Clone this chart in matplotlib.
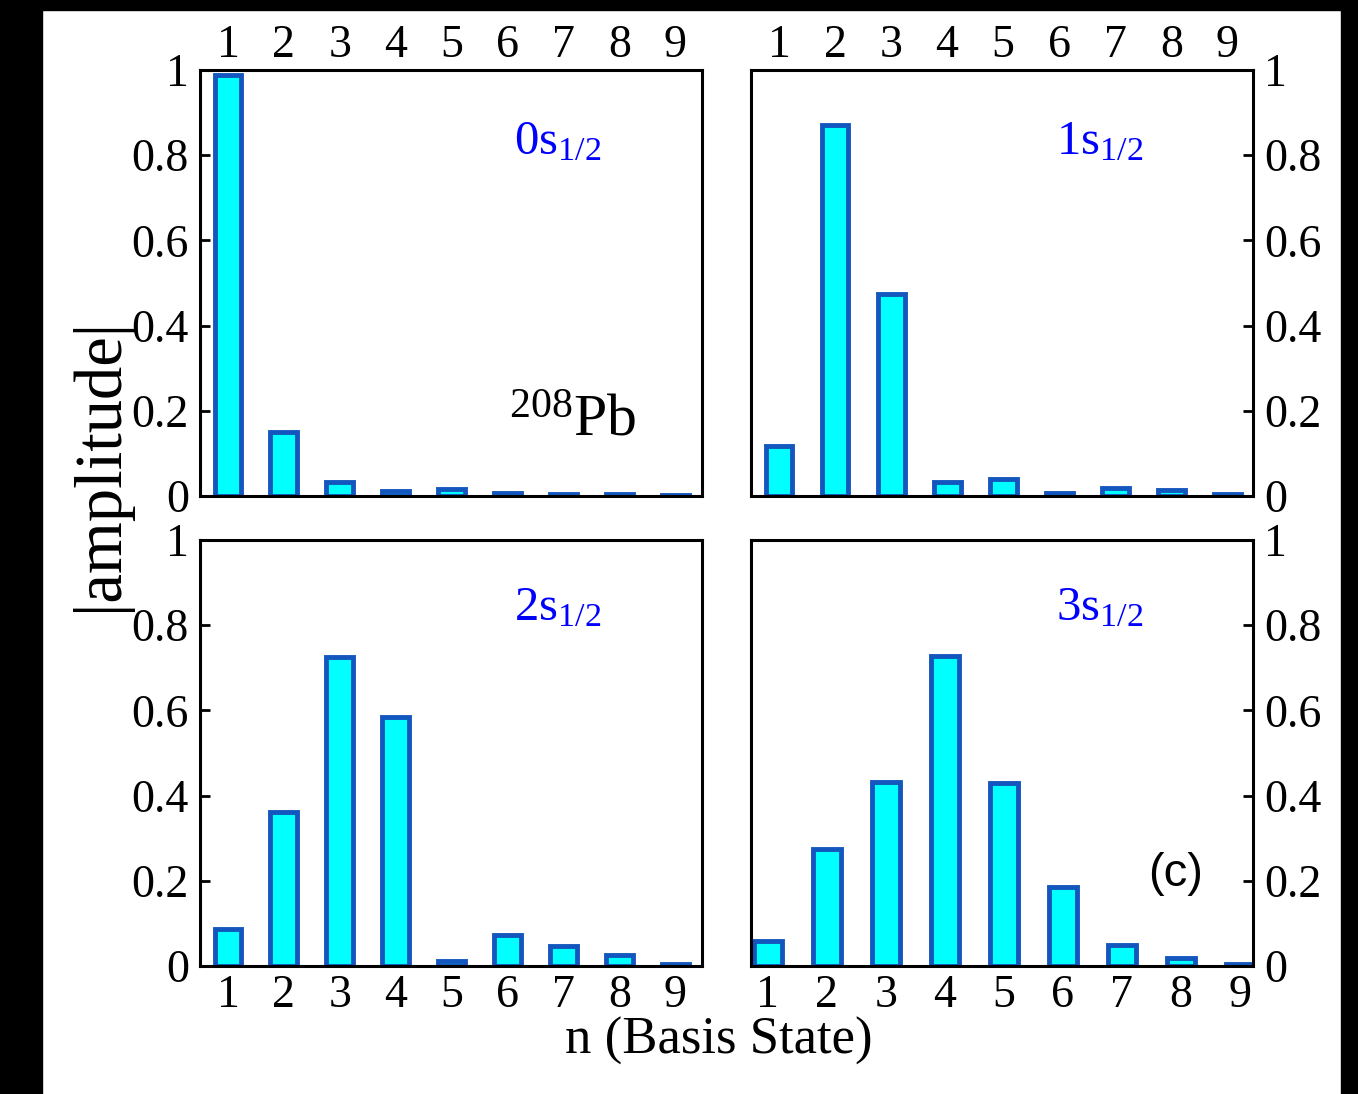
import numpy as np
import matplotlib
matplotlib.use("Agg")
import matplotlib.pyplot as plt
from matplotlib.patches import Rectangle

plt.rcParams['font.family'] = ['Liberation Serif', 'DejaVu Serif']
plt.rcParams['mathtext.fontset'] = 'custom'
plt.rcParams['mathtext.rm'] = 'Liberation Serif'
plt.rcParams['mathtext.it'] = 'Liberation Serif:italic'

n = np.arange(1, 10)
amp_0s = [0.988, 0.150, 0.033, 0.012, 0.016, 0.008, 0.005, 0.005, 0.003]
amp_1s = [0.117, 0.871, 0.474, 0.033, 0.040, 0.006, 0.018, 0.013, 0.004]
amp_2s = [0.087, 0.361, 0.725, 0.585, 0.012, 0.073, 0.047, 0.026, 0.004]
amp_3s = [0.059, 0.275, 0.432, 0.728, 0.430, 0.185, 0.049, 0.019, 0.005]
state_names = [r'$\mathrm{0s}_{1/2}$', r'$\mathrm{1s}_{1/2}$',
               r'$\mathrm{2s}_{1/2}$', r'$\mathrm{3s}_{1/2}$']
yticks = [0, 0.2, 0.4, 0.6, 0.8, 1]
yticklabels = ['0', '0.2', '0.4', '0.6', '0.8', '1']

W, H = 1358, 1094
fig = plt.figure(figsize=(W / 100, H / 100), dpi=100, facecolor='white')
# black frame around the figure
fig.patches.append(Rectangle((0, 0), 42 / W, 1, transform=fig.transFigure, color='black', zorder=-1))
fig.patches.append(Rectangle((1341 / W, 0), 1, 1, transform=fig.transFigure, color='black', zorder=-1))
fig.patches.append(Rectangle((0, 1 - 10 / H), 1, 1, transform=fig.transFigure, color='black', zorder=-1))

def px_axes(x0, y0, x1, y1):
    return fig.add_axes([x0 / W, 1 - y1 / H, (x1 - x0) / W, (y1 - y0) / H])

ax_tl = px_axes(200, 70, 702, 496)
ax_tr = px_axes(751, 70, 1253, 496)
ax_bl = px_axes(200, 540, 702, 966)
ax_br = px_axes(751, 540, 1253, 966)

panels = [
    (ax_tl, amp_0s, state_names[0], (0.5, 9.48), 'left', 'top', (0.713, 0.83)),
    (ax_tr, amp_1s, state_names[1], (0.5, 9.46), 'right', 'top', (0.695, 0.83)),
    (ax_bl, amp_2s, state_names[2], (0.5, 9.48), 'left', 'bottom', (0.713, 0.84)),
    (ax_br, amp_3s, state_names[3], (0.715, 9.22), 'right', 'bottom', (0.695, 0.84)),
]

for ax, vals, name, xlim, yside, xside, pos in panels:
    ax.bar(n, vals, width=0.48, color='#00FFFF', edgecolor='#1256BE', linewidth=3.5)
    ax.set_xlim(*xlim)
    ax.set_ylim(0, 1)
    ax.set_xticks(n)
    ax.set_xticklabels([str(i) for i in n])
    ax.set_yticks(yticks)
    ax.set_yticklabels(yticklabels)
    for s in ax.spines.values():
        s.set_linewidth(2.2)
    ax.tick_params(axis='x', length=0, labelsize=33,
                   pad=2 if xside == 'top' else 6,
                   top=False, bottom=False,
                   labeltop=(xside == 'top'), labelbottom=(xside == 'bottom'))
    ax.tick_params(axis='y', direction='in', length=7, width=2, labelsize=33, pad=8,
                   left=(yside == 'left'), right=(yside == 'right'),
                   labelleft=(yside == 'left'), labelright=(yside == 'right'))
    ax.text(pos[0], pos[1], name, transform=ax.transAxes, color='#0000FF',
            fontsize=35, ha='center', va='center')

ax_tl.text(0.743, 0.175, r'$^{208}\mathrm{Pb}$', transform=ax_tl.transAxes,
           fontsize=43, ha='center', va='center')
ax_br.text(0.845, 0.215, '(c)', transform=ax_br.transAxes, fontsize=34,
           ha='center', va='center', family=['Liberation Sans', 'DejaVu Sans'])

fig.text(100 / W, 1 - 464 / H, '|amplitude|', rotation=90, fontsize=48,
         ha='center', va='center')
fig.text(719 / W, 1 - 1041 / H, 'n (Basis State)', fontsize=38,
         ha='center', va='center')

fig.savefig('out.png', dpi=100, facecolor=fig.get_facecolor())
